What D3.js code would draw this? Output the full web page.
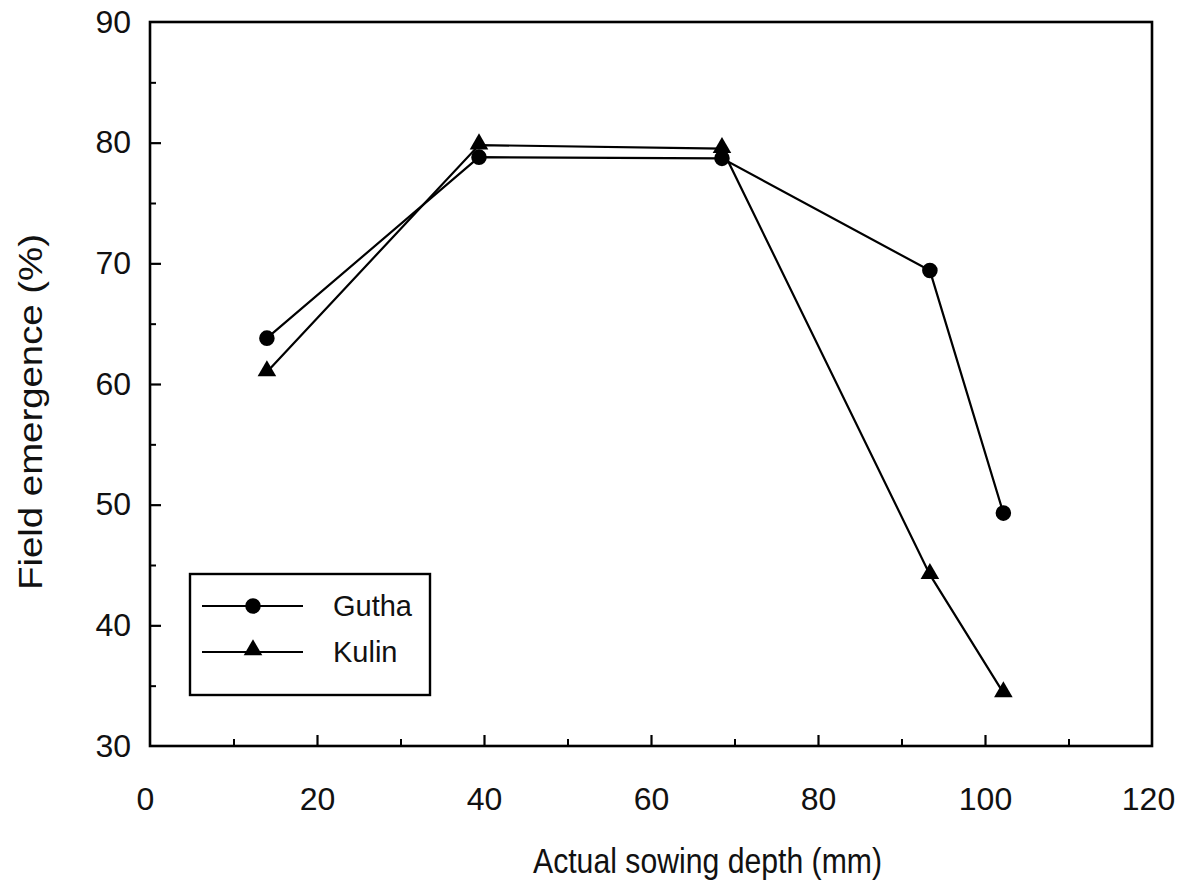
<!DOCTYPE html>
<html>
<head>
<meta charset="utf-8">
<script src="https://cdn.jsdelivr.net/npm/d3@7"></script>
<style>
  body { margin: 0; background: #fff; }
  svg { display: block; }
  text { font-family: "Liberation Sans Narrow", "Liberation Sans", Arial, sans-serif; fill: #111; }
  text.wide { font-family: "Liberation Sans", Arial, sans-serif; }
</style>
</head>
<body>
<svg id="chart" width="1179" height="887"></svg>
<script>
// Sowing depth (mm) and field emergence (%) for two wheat cultivars
const depthGutha = [14, 39.4, 68.5, 93.4, 102.2];
const emergenceGutha = [63.8, 78.8, 78.7, 69.4, 49.3];
const depthKulin = [14, 39.4, 68.5, 93.4, 102.2];
const emergenceKulin = [61.0, 79.8, 79.5, 44.2, 34.4];
const seriesNames = ["Gutha", "Kulin"];
const xTicks = [0, 20, 40, 60, 80, 100, 120];
const yTicks = [30, 40, 50, 60, 70, 80, 90];

const svg = d3.select("#chart");
const plotL = 150, plotR = 1152, plotT = 22, plotB = 746;

const x = d3.scaleLinear().domain([0, 120]).range([plotL, plotR]);
const y = d3.scaleLinear().domain([30, 90]).range([plotB, plotT]);

// frame
svg.append("rect")
  .attr("x", plotL).attr("y", plotT)
  .attr("width", plotR - plotL).attr("height", plotB - plotT)
  .attr("fill", "none").attr("stroke", "#000").attr("stroke-width", 2.6);

// inward ticks, major and minor
const xAxis = d3.axisBottom(x).tickValues(xTicks).tickSize(-11).tickFormat(d => d).tickPadding(41);
const gx = svg.append("g").attr("transform", `translate(0,${plotB})`).call(xAxis);
gx.select(".domain").remove();
gx.selectAll(".tick line").attr("stroke-width", 2.2);
gx.selectAll(".tick text").attr("font-size", 32).attr("dy", "0.71em").attr("fill", "#111");
gx.selectAll(".tick").filter(d => d === 0 || d === 120).select("line").remove();
gx.selectAll(".tick").filter(d => d === 0).select("text").attr("dx", -5);
gx.selectAll(".tick").filter(d => d === 120).select("text").attr("dx", -4);

const gxm = svg.append("g").attr("transform", `translate(0,${plotB})`)
  .call(d3.axisBottom(x).tickValues([10, 30, 50, 70, 90, 110]).tickSize(-7).tickFormat(""));
gxm.select(".domain").remove();
gxm.selectAll(".tick line").attr("stroke-width", 2);

const yAxis = d3.axisLeft(y).tickValues(yTicks).tickSize(-11).tickFormat(d => d).tickPadding(19);
const gy = svg.append("g").attr("transform", `translate(${plotL},0)`).call(yAxis);
gy.select(".domain").remove();
gy.selectAll(".tick line").attr("stroke-width", 2.2);
gy.selectAll(".tick text").attr("font-size", 32).attr("fill", "#111");
gy.selectAll(".tick").filter(d => d === 30 || d === 90).select("line").remove();

const gym = svg.append("g").attr("transform", `translate(${plotL},0)`)
  .call(d3.axisLeft(y).tickValues([35, 45, 55, 65, 75, 85]).tickSize(-6).tickFormat(""));
gym.select(".domain").remove();
gym.selectAll(".tick line").attr("stroke-width", 2);

// axis titles
svg.append("text")
  .attr("x", 533).attr("y", 873)
  .attr("font-size", 35)
  .attr("textLength", 349).attr("lengthAdjust", "spacingAndGlyphs")
  .text("Actual sowing depth (mm)");
svg.append("text")
  .attr("class", "wide")
  .attr("transform", `translate(42,590) rotate(-90)`)
  .attr("font-size", 34)
  .attr("textLength", 356).attr("lengthAdjust", "spacingAndGlyphs")
  .text("Field emergence (%)");

// series
const line = d3.line().x(d => x(d[0])).y(d => y(d[1]));
const gutha = d3.zip(depthGutha, emergenceGutha);
const kulin = d3.zip(depthKulin, emergenceKulin);

svg.append("path").datum(gutha).attr("d", line)
  .attr("fill", "none").attr("stroke", "#000").attr("stroke-width", 2.2);
svg.append("path").datum(kulin).attr("d", line)
  .attr("fill", "none").attr("stroke", "#000").attr("stroke-width", 2.2);

const circle = d3.symbol().type(d3.symbolCircle).size(190);
const tri = d3.symbol().type(d3.symbolTriangle).size(150);

svg.selectAll(".gmark").data(gutha).join("path")
  .attr("class", "gmark")
  .attr("transform", d => `translate(${x(d[0])},${y(d[1])})`)
  .attr("d", circle).attr("fill", "#000");
svg.selectAll(".kmark").data(kulin).join("path")
  .attr("class", "kmark")
  .attr("transform", d => `translate(${x(d[0])},${y(d[1]) - 1})`)
  .attr("d", tri).attr("fill", "#000");

// legend
const lg = svg.append("g");
lg.append("rect").attr("x", 190).attr("y", 574).attr("width", 240).attr("height", 121)
  .attr("fill", "#fff").attr("stroke", "#000").attr("stroke-width", 2.4);
const legendRows = [{name: seriesNames[0], sym: circle, yy: 606},
                    {name: seriesNames[1], sym: tri, yy: 652}];
legendRows.forEach(r => {
  lg.append("line").attr("x1", 202).attr("x2", 303).attr("y1", r.yy).attr("y2", r.yy)
    .attr("stroke", "#000").attr("stroke-width", 2.2);
  lg.append("path").attr("transform", `translate(253,${r.yy - (r.sym === tri ? 2 : 0)})`)
    .attr("d", r.sym).attr("fill", "#000");
  lg.append("text").attr("x", 333).attr("y", r.yy).attr("dy", "0.36em")
    .attr("font-size", 29).text(r.name);
});
</script>
</body>
</html>
